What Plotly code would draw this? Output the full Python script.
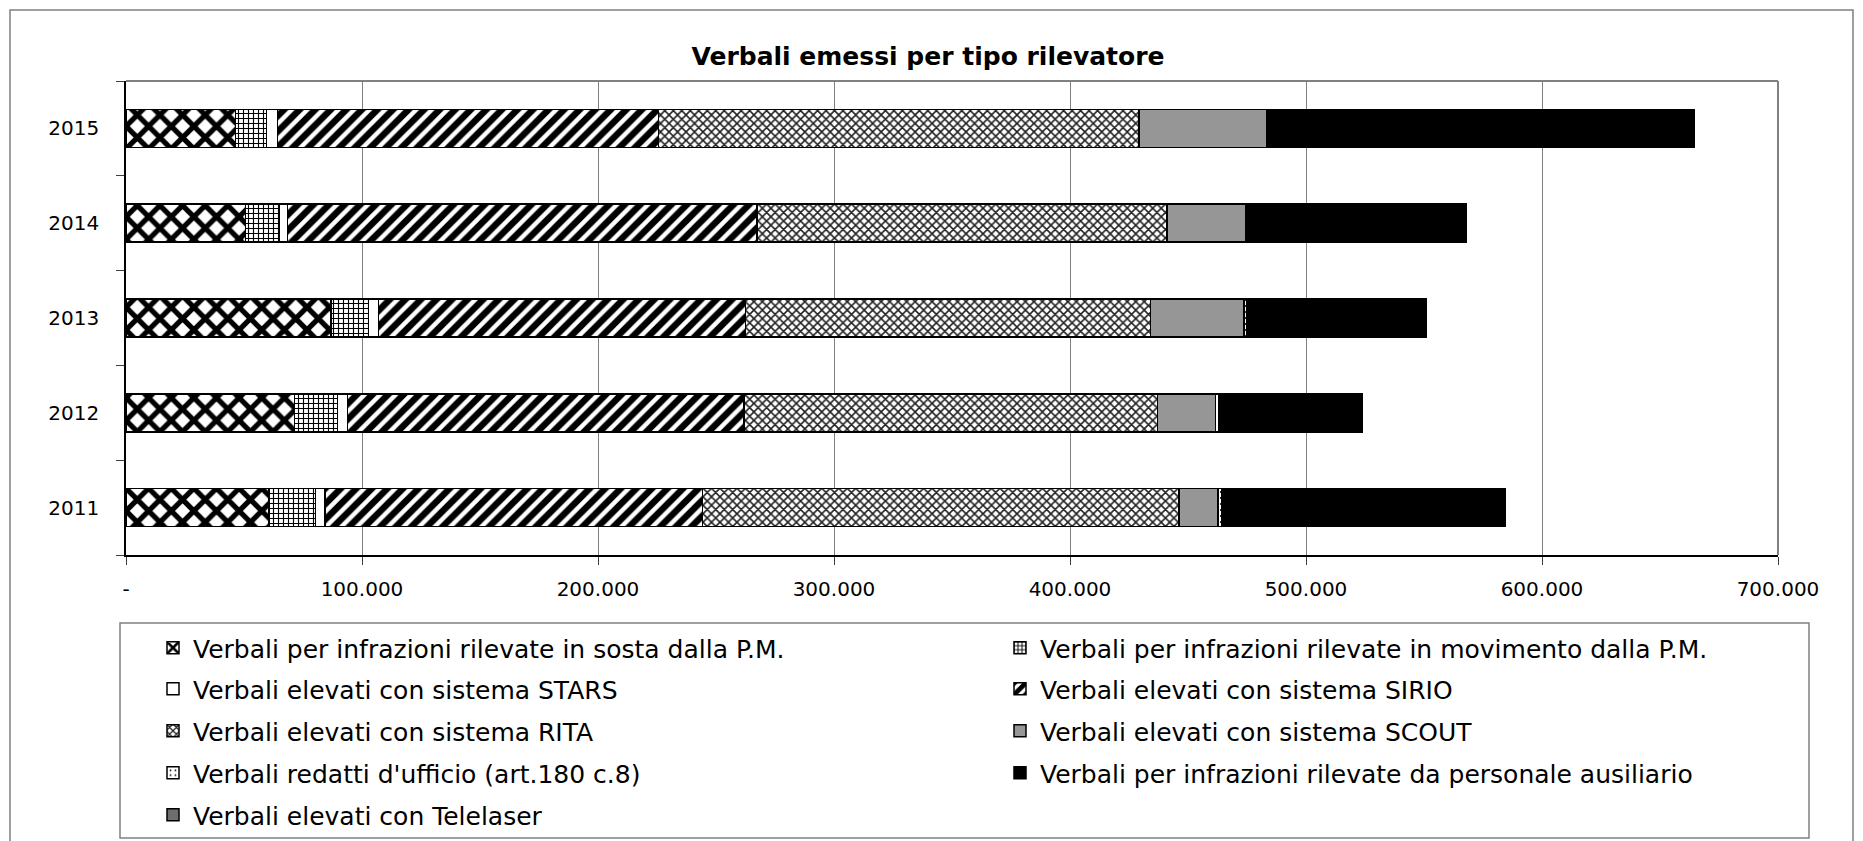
import plotly.graph_objects as go

# ---------------- data ----------------
years = ["2011", "2012", "2013", "2014", "2015"]

sosta       = [60600, 71300, 86900, 50700, 46500]
movimento   = [19800, 18400, 15800, 14300, 13100]
stars       = [3900, 4100, 4200, 3500, 4500]
sirio       = [159900, 168100, 155600, 198800, 161500]
rita        = [202000, 175200, 171600, 173800, 203600]
scout       = [16600, 24600, 39600, 33300, 54100]
ufficio     = [1600, 1400, 1200, 500, 0]
ausiliario  = [120100, 60900, 76100, 92800, 181200]
telelaser   = [0, 0, 0, 0, 0]

series_names = [
    "Verbali per infrazioni rilevate in sosta dalla P.M.",
    "Verbali per infrazioni rilevate in movimento dalla P.M.",
    "Verbali elevati con sistema STARS",
    "Verbali elevati con sistema SIRIO",
    "Verbali elevati con sistema RITA",
    "Verbali elevati con sistema SCOUT",
    "Verbali redatti d'ufficio (art.180 c.8)",
    "Verbali per infrazioni rilevate da personale ausiliario",
    "Verbali elevati con Telelaser",
]
series_values = [sosta, movimento, stars, sirio, rita, scout, ufficio, ausiliario, telelaser]

x_tickvals = [0, 100000, 200000, 300000, 400000, 500000, 600000, 700000]
x_ticktext = ["-", "100.000", "200.000", "300.000", "400.000", "500.000", "600.000", "700.000"]

title_text = "Verbali emessi per tipo rilevatore"

# ---------------- styles ----------------
W, H = 1863, 841
PL, PR, PT, PB = 126, 1778, 81, 555   # plot area in pixels
FONT = "DejaVu Sans"

def px_x(p):
    return (p - PL) / (PR - PL)

def px_y(p):
    return (PB - p) / (PB - PT)

styles = [
    dict(color="white", pattern=dict(shape="x", fgcolor="black", bgcolor="white", fgopacity=1, size=16, solidity=0.55)),
    dict(color="white", pattern=dict(shape="+", fgcolor="black", bgcolor="white", fgopacity=1, size=5, solidity=0.4)),
    dict(color="white"),
    dict(color="white", pattern=dict(shape="/", fgcolor="black", bgcolor="white", fgopacity=1, size=11, solidity=0.6)),
    dict(color="white", pattern=dict(shape="x", fgcolor="#202020", bgcolor="white", fgopacity=1, size=6, solidity=0.45)),
    dict(color="#969696"),
    dict(color="white", pattern=dict(shape=".", fgcolor="black", bgcolor="white", fgopacity=1, size=6, solidity=0.1)),
    dict(color="black"),
    dict(color="#6e6e6e"),
]

# legend placement (item left x, row centre y) in pixels
col_x = [153, 1000]
row_y = [648, 689, 731, 773, 815]
legend_pos = [(col_x[i % 2], row_y[i // 2]) for i in range(len(series_names))]

fig = go.Figure()
for i, (name, vals, st) in enumerate(zip(series_names, series_values, styles)):
    lg = "legend" if i == 0 else f"legend{i+1}"
    fig.add_trace(go.Bar(
        y=years, x=vals, name=name, orientation="h",
        marker=dict(line=dict(color="black", width=1.5), **st),
        legend=lg, showlegend=True,
    ))

layout_legends = {}
for i, (lx, ly) in enumerate(legend_pos):
    key = "legend" if i == 0 else f"legend{i+1}"
    layout_legends[key] = dict(
        x=px_x(lx), y=px_y(ly), xanchor="left", yanchor="middle",
        orientation="h", bgcolor="rgba(0,0,0,0)", borderwidth=0,
        font=dict(family=FONT, size=25, color="black"),
        itemclick=False, itemdoubleclick=False,
    )

fig.update_layout(
    width=W, height=H,
    margin=dict(l=PL, r=W - PR, t=PT, b=H - PB, pad=0, autoexpand=False),
    barmode="stack", bargap=0.6,
    paper_bgcolor="white", plot_bgcolor="white",
    font=dict(family=FONT, size=20, color="black"),
    title=dict(text="<b>" + title_text + "</b>", x=928 / W, xanchor="center",
               y=1 - 56 / H, yanchor="middle", yref="container",
               font=dict(family=FONT, size=25, color="black")),
    xaxis=dict(range=[0, 700000], tickvals=x_tickvals, ticktext=x_ticktext,
               showgrid=True, gridcolor="#808080", gridwidth=1,
               showline=True, linecolor="black", linewidth=1.5,
               ticks="outside", ticklen=8, tickcolor="#404040", tickwidth=1,
               ticklabelstandoff=7, zeroline=False, fixedrange=True,
               tickfont=dict(family=FONT, size=20, color="black")),
    yaxis=dict(type="category", showgrid=False,
               showline=True, linecolor="black", linewidth=1.5,
               ticks="outside", ticklen=8, tickcolor="#404040", tickwidth=1,
               tickson="boundaries", ticklabelstandoff=21, fixedrange=True,
               tickfont=dict(family=FONT, size=20, color="black")),
    shapes=[
        # plot area frame (top / right)
        dict(type="line", xref="paper", yref="paper", x0=0, x1=1, y0=1, y1=1,
             line=dict(color="#808080", width=2)),
        dict(type="line", xref="paper", yref="paper", x0=1, x1=1, y0=0, y1=1,
             line=dict(color="#808080", width=2)),
        # legend frame
        dict(type="rect", xref="paper", yref="paper",
             x0=px_x(120), x1=px_x(1809), y0=px_y(838), y1=px_y(623),
             line=dict(color="#808080", width=1.5), fillcolor="rgba(0,0,0,0)", layer="below"),
        # outer chart frame
        dict(type="rect", xref="paper", yref="paper",
             x0=px_x(10), x1=px_x(1853), y0=px_y(860), y1=px_y(10),
             line=dict(color="#808080", width=1.5), fillcolor="rgba(0,0,0,0)", layer="below"),
    ],
    **layout_legends,
)

fig.write_html("out.html", config={"displayModeBar": False},
               post_script="document.body.style.margin='0px';")
